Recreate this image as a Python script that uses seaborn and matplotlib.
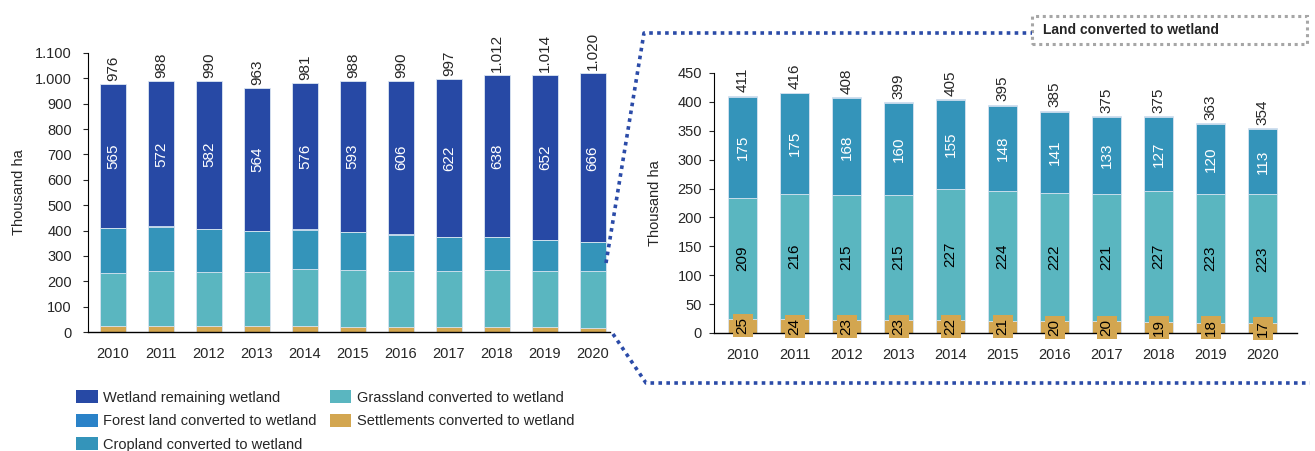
import seaborn as sns
import matplotlib.pyplot as plt
import pandas as pd
from matplotlib.patches import Patch, Rectangle
from matplotlib.lines import Line2D

# data (thousand ha)
years = ['2010', '2011', '2012', '2013', '2014', '2015', '2016', '2017', '2018', '2019', '2020']
wetland_remaining = [565, 572, 582, 564, 576, 593, 606, 622, 638, 652, 666]
forest = [2, 1, 2, 1, 1, 2, 2, 1, 2, 2, 1]
cropland = [175, 175, 168, 160, 155, 148, 141, 133, 127, 120, 113]
grassland = [209, 216, 215, 215, 227, 224, 222, 221, 227, 223, 223]
settlements = [25, 24, 23, 23, 22, 21, 20, 20, 19, 18, 17]
total_all = [976, 988, 990, 963, 981, 988, 990, 997, 1012, 1014, 1020]
total_converted = [411, 416, 408, 399, 405, 395, 385, 375, 375, 363, 354]

names = ['Wetland remaining wetland', 'Forest land converted to wetland',
         'Cropland converted to wetland', 'Grassland converted to wetland',
         'Settlements converted to wetland']
colors = {'Wetland remaining wetland': '#2749A5',
          'Forest land converted to wetland': '#2A82C8',
          'Cropland converted to wetland': '#3494BA',
          'Grassland converted to wetland': '#5AB6C0',
          'Settlements converted to wetland': '#D3A650'}

df = pd.DataFrame({'Year': years,
                   'Settlements converted to wetland': settlements,
                   'Grassland converted to wetland': grassland,
                   'Cropland converted to wetland': cropland,
                   'Forest land converted to wetland': forest,
                   'Wetland remaining wetland': wetland_remaining})
stack_order = names[::-1]  # bottom to top
cum = df[stack_order].cumsum(axis=1)

sns.set_style('white')
plt.rcParams['font.family'] = ['Liberation Sans', 'DejaVu Sans']

fig = plt.figure(figsize=(13.15, 4.51), dpi=100)
axL = fig.add_axes([88/1315, 1-332/451, (610-88)/1315, (332-53)/451])
axR = fig.add_axes([714/1315, 1-333/451, (1297-714)/1315, (333-73)/451])

LBL = 11


def fmt(v):
    return f'{v:,}'.replace(',', '.')


def stacked(ax, layers, width):
    # draw cumulative heights from the top layer down so they overlap into a stack
    for name in layers[::-1]:
        sns.barplot(x=df['Year'], y=cum[name], color=colors[name], width=width,
                    edgecolor='#DCE6F2', linewidth=0.6, ax=ax, saturation=1)


# left chart: all categories
stacked(axL, stack_order, 0.55)
axL.set_ylim(0, 1100)
axL.set_xlim(-0.52, 10.36)
axL.set_yticks(range(0, 1101, 100))
axL.set_yticklabels([fmt(v) for v in range(0, 1101, 100)])
for i in range(len(years)):
    axL.text(i, cum['Wetland remaining wetland'][i] + 12, fmt(total_all[i]),
             rotation=90, ha='center', va='bottom', fontsize=LBL)
    mid = cum['Forest land converted to wetland'][i] + wetland_remaining[i] / 2
    axL.text(i, mid, str(wetland_remaining[i]), rotation=90, ha='center',
             va='center', color='white', fontsize=LBL)

# right chart: land converted to wetland
stacked(axR, stack_order[:-1], 0.56)
axR.set_ylim(0, 450)
axR.set_xlim(-0.55, 10.66)
axR.set_yticks(range(0, 451, 50))
for i in range(len(years)):
    axR.text(i, cum['Forest land converted to wetland'][i] + 6, str(total_converted[i]),
             rotation=90, ha='center', va='bottom', fontsize=LBL)
    axR.text(i, settlements[i] + cropland[i] / 2 + grassland[i], str(cropland[i]),
             rotation=90, ha='center', va='center', color='white', fontsize=LBL)
    axR.text(i, settlements[i] + grassland[i] / 2, str(grassland[i]),
             rotation=90, ha='center', va='center', color='black', fontsize=LBL)
    axR.text(i, settlements[i] / 2, str(settlements[i]), rotation=90, ha='center',
             va='center', color='black', fontsize=LBL,
             bbox=dict(facecolor=colors['Settlements converted to wetland'],
                       edgecolor='none', pad=2.2))

for ax, ypad in ((axL, 8), (axR, 5)):
    ax.set_xlabel('')
    ax.set_ylabel('Thousand ha', fontsize=10.5)
    sns.despine(ax=ax)
    ax.spines['left'].set_color('black')
    ax.spines['bottom'].set_color('black')
    ax.spines['left'].set_linewidth(0.8)
    ax.spines['bottom'].set_linewidth(1.0)
    ax.tick_params(axis='y', which='major', left=True, length=3.6, width=0.8,
                   labelsize=10.5, pad=ypad)
    ax.tick_params(axis='x', bottom=False, labelsize=10.5, pad=7)
axL.yaxis.set_label_coords(-0.118, 0.5)
axR.yaxis.set_label_coords(-0.089, 0.5)


def px(x, y):
    return (x / 1315, 1 - y / 451)


# dotted connector lines
dot = dict(color='#2B4BA8', linestyle=(0, (1, 1.2)), linewidth=2.6)
xs, ys = zip(px(606, 263), px(644, 33), px(1032, 33))
fig.add_artist(Line2D(xs, ys, transform=fig.transFigure, **dot))
xs, ys = zip(px(613, 334), px(646, 383), px(1310, 383))
fig.add_artist(Line2D(xs, ys, transform=fig.transFigure, **dot))

# title box
x0, y0 = px(1032, 44)
fig.add_artist(Rectangle((x0, y0), 275/1315, 28/451, transform=fig.transFigure,
                         facecolor='white', edgecolor='#A6A6A6',
                         linestyle=(0, (1, 1.2)), linewidth=2.2))
fig.text(1043/1315, 1 - 30/451, 'Land converted to wetland', fontsize=10,
         fontweight='bold', va='center', ha='left')

# legend
handles = [Patch(facecolor=colors[n], edgecolor='none', label=n) for n in names]
fig.legend(handles=handles, ncol=2, loc='upper left', bbox_to_anchor=px(76, 390),
           frameon=False, fontsize=10.5, handlelength=1.5, handleheight=1.0,
           handletextpad=0.35, labelspacing=0.62, columnspacing=0.9,
           borderaxespad=0, borderpad=0)

fig.savefig('out.png', dpi=100)
